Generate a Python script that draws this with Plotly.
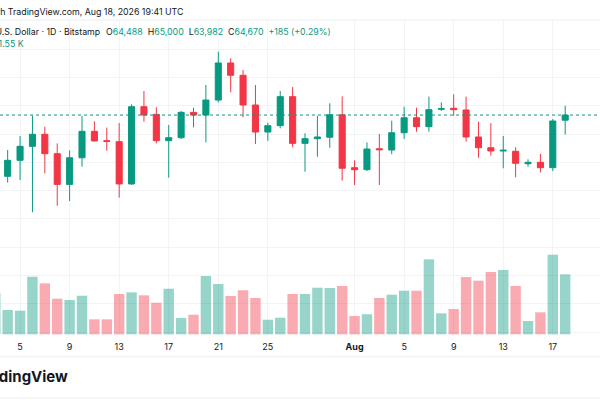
import pandas as pd
import plotly.graph_objects as go

# daily BTC/USD candles, Bitstamp, 2026-07-03 .. 2026-08-18
dates = pd.date_range("2026-07-03", "2026-08-18", freq="D")
opens = [61490, 62505, 63070, 63565, 63990, 63305, 62220, 63160, 64095, 63765,
         63730, 62235, 64965, 64695, 63765, 63870, 64765, 64670, 65200, 66510,
         66075, 65025, 64070, 64295, 65320, 63670, 63835, 63885, 64680,
         62810, 62740, 63480, 63435, 64045, 64575, 64260, 64875, 64910, 64850,
         63895, 63515, 63400, 63390, 62950, 63000, 62810, 64488]
highs = [62550, 63435, 63930, 64645, 64260, 63670, 63425, 64635, 64450, 64225,
         64390, 65050, 65520, 64945, 64320, 64815, 64930, 65730, 66910, 66675,
         66260, 65730, 64400, 65520, 65660, 64025, 64645, 65085, 65330,
         63070, 63705, 64000, 64470, 64965, 64930, 65320, 65120, 65405, 65320,
         64435, 64380, 63930, 63530, 63105, 63295, 64530, 65000]
lows = [61420, 62280, 62375, 61235, 62610, 61465, 61630, 62845, 63735, 63410,
        61750, 62200, 64435, 63670, 62455, 63825, 64235, 63705, 65120, 65475,
        64590, 63645, 63755, 64200, 63530, 62670, 63200, 63515, 62350,
        62200, 62690, 62200, 63285, 63825, 64080, 64080, 64815, 64645, 63730,
        63160, 63235, 62790, 62470, 62845, 62645, 62690, 63982]
closes = [62480, 63070, 63565, 63990, 63305, 62220, 63160, 64095, 63755, 63740,
          62235, 64965, 64670, 63765, 63870, 64765, 64670, 65200, 66510, 66075,
          65025, 64070, 64295, 65320, 63670, 63835, 63895, 64680, 62790,
          62740, 63470, 63445, 64045, 64575, 64260, 64860, 64895, 64860, 63895,
          63515, 63400, 63425, 62965, 63000, 62810, 64460, 64670]
volumes = [1067, 628, 610, 1488, 1317, 920, 886, 997, 387, 387,
           1041, 1085, 1007, 816, 1178, 421, 506, 1506, 1299, 989,
           1137, 938, 377, 429, 1041, 1041, 1204, 1196, 1248,
           473, 517, 938, 1023, 1126, 1126, 1937, 542, 654, 1480,
           1385, 1609, 1661, 1248, 344, 568, 2056, 1550]
tick_dates = ["2026-07-05", "2026-07-09", "2026-07-13", "2026-07-17", "2026-07-21",
              "2026-07-25", "2026-08-01", "2026-08-05", "2026-08-09", "2026-08-13",
              "2026-08-17", "2026-08-21"]
tick_labels = ["5", "9", "13", "17", "21", "25", "<b>Aug</b>", "5", "9", "13", "17", "21"]

UP = "#089981"
DOWN = "#F23645"
TXT = "#131722"
FONT = "Inter"
HS = 8.8  # header text size

vol_colors = ["rgba(8,153,129,0.42)" if c >= o else "rgba(242,54,69,0.42)"
              for o, c in zip(opens, closes)]

fig = go.Figure()
fig.add_trace(go.Candlestick(
    x=dates, open=opens, high=highs, low=lows, close=closes,
    increasing=dict(line=dict(color=UP, width=1), fillcolor=UP),
    decreasing=dict(line=dict(color=DOWN, width=1), fillcolor=DOWN),
    whiskerwidth=0, showlegend=False, hoverinfo="skip",
))
fig.add_trace(go.Bar(
    x=dates, y=volumes, marker=dict(color=vol_colors, line=dict(width=0)),
    yaxis="y2", showlegend=False, hoverinfo="skip",
))

# last price line
fig.add_hline(y=closes[-1], line=dict(color=UP, width=1, dash="dot"))

# pane / footer separators
for yy in [1.0, -0.069, -0.2]:
    fig.add_shape(type="line", xref="paper", yref="paper", x0=0, x1=1, y0=yy, y1=yy,
                  line=dict(color="#eceef2", width=1))

g = "<span style='color:%s'>%s</span>"
legend_row = "Bitcoin / U.S. Dollar · 1D · Bitstamp"
ohlc_row = ("O" + g % (UP, "64,488") + "  H" + g % (UP, "65,000") + "  L" + g % (UP, "63,982")
            + "  C" + g % (UP, "64,670") + "  " + g % (UP, "+185 (+0.29%)"))

ann = [
    dict(text="Cointelegraph published with TradingView.com, Aug 18, 2026 19:41 UTC",
         x=184 / 600, y=1.0254, xanchor="right", font=dict(size=HS, color=TXT)),
    dict(text=legend_row, x=101 / 600, y=0.9624, xanchor="right", font=dict(size=HS, color=TXT)),
    dict(text=ohlc_row, x=105 / 600, y=0.9624, xanchor="left", font=dict(size=HS, color=TXT)),
    dict(text="Vol · BTC  " + g % (UP, "1.55 K"), x=25 / 600, y=0.924, xanchor="right",
         font=dict(size=HS, color=TXT)),
    dict(text="<b>TradingView</b>", x=69 / 600, y=-0.133, xanchor="right",
         font=dict(size=15, color=TXT)),
]
for a in ann:
    fig.add_annotation(xref="paper", yref="paper", yanchor="middle", showarrow=False,
                       borderpad=0, **a)

fig.update_layout(
    width=600, height=400,
    margin=dict(l=0, r=0, t=20, b=65),
    paper_bgcolor="white", plot_bgcolor="white",
    font=dict(family=FONT, color=TXT),
    bargap=0.16,
    xaxis=dict(
        type="date", range=["2026-07-03 09:09", "2026-08-20 19:26"],
        rangeslider=dict(visible=False),
        tickvals=tick_dates, ticktext=tick_labels,
        showgrid=True, gridcolor="#f2f3f5", gridwidth=1,
        ticks="", tickfont=dict(size=9, color=TXT), ticklabelstandoff=5,
        showline=False, zeroline=False,
    ),
    yaxis=dict(
        range=[56897, 68029], dtick=1000, showgrid=True, gridcolor="#f2f3f5",
        showticklabels=False, zeroline=False,
    ),
    yaxis2=dict(
        overlaying="y", range=[-18, 8120], showgrid=False,
        showticklabels=False, zeroline=False,
    ),
)

# the page's default body margin would push the 600x400 figure off the window
fig.write_html("out.html", config={"displayModeBar": False},
               post_script="document.body.style.margin='0';")
